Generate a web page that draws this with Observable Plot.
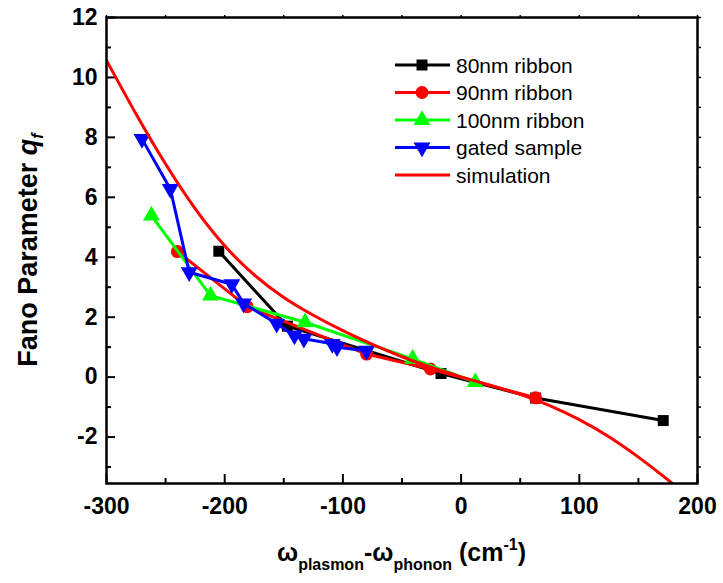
<!DOCTYPE html>
<html><head><meta charset="utf-8">
<script src="https://cdn.jsdelivr.net/npm/d3@7"></script>
<script src="https://cdn.jsdelivr.net/npm/@observablehq/plot@0.6"></script>
<style>
body{margin:0;background:#fff}
svg{font-family:"Liberation Sans",Arial,sans-serif}
</style>
</head><body><div id="chart"></div>
<script>
// ---- data ----
const x80 = [-205, -147, -17, 63, 171];
const y80 = [4.2, 1.7, 0.12, -0.7, -1.45];
const x90 = [-240, -181, -80, -26, 63];
const y90 = [4.19, 2.35, 0.77, 0.27, -0.69];
const x100 = [-262, -212, -132, -41, 12];
const y100 = [5.39, 2.72, 1.83, 0.61, -0.17];
const xGated = [-270, -246, -230, -194, -184, -156, -141, -133, -109, -105, -80];
const yGated = [7.95, 6.28, 3.5, 3.1, 2.46, 1.78, 1.39, 1.28, 1.11, 1.0, 0.88];
const xSim = [-300, -275, -250, -225, -200, -175, -150, -125, -100, -75, -50, -25, 0, 25, 50, 75, 100, 125, 150, 175, 200];
const ySim = [10.57, 8.78, 7.11, 5.62, 4.38, 3.41, 2.66, 2.066, 1.55, 1.09, 0.68, 0.32, 0.01, -0.28, -0.575, -0.95, -1.42, -1.99, -2.67, -3.43, -4.25];

const xTicks = [-300, -200, -100, 0, 100, 200];
const xMinorTicks = [-250, -150, -50, 50, 150];
const yTicks = [-2, 0, 2, 4, 6, 8, 10, 12];
const yMinorTicks = [-3, -1, 1, 3, 5, 7, 9, 11];
const xDomain = [-300, 200];
const yDomain = [-3.55, 12];

const seriesNames = ["80nm ribbon", "90nm ribbon", "100nm ribbon", "gated sample", "simulation"];
const seriesColors = ["#000000", "#ff0000", "#00ff00", "#0000ff", "#ff0000"];

const rows = (xs, ys) => xs.map((x, i) => ({x, y: ys[i]}));

const triDown = {
  draw(ctx, size) {
    const y = -Math.sqrt(size / (Math.sqrt(3) * 3));
    ctx.moveTo(0, -y * 2);
    ctx.lineTo(-Math.sqrt(3) * y, y);
    ctx.lineTo(Math.sqrt(3) * y, y);
    ctx.closePath();
  }
};
const triUp = {
  draw(ctx, size) {
    const y = -Math.sqrt(size / (Math.sqrt(3) * 3));
    ctx.moveTo(0, y * 2);
    ctx.lineTo(-Math.sqrt(3) * y, -y);
    ctx.lineTo(Math.sqrt(3) * y, -y);
    ctx.closePath();
  }
};
const symbols = ["square", "circle", triUp, triDown, null];
const radii = [6.2, 6.5, 6.3, 6.3, 0];

const allX = d3.range(-300, 201, 50);
const allY = d3.range(-3, 13, 1);

const series = [rows(x80, y80), rows(x90, y90), rows(x100, y100), rows(xGated, yGated)];

const marks = [];
series.forEach((d, i) => {
  marks.push(Plot.line(d, {x: "x", y: "y", stroke: seriesColors[i], strokeWidth: 3}));
  marks.push(Plot.dot(d, {x: "x", y: "y", symbol: symbols[i], r: radii[i], fill: seriesColors[i], stroke: "none"}));
});
marks.push(Plot.line(rows(xSim, ySim), {x: "x", y: "y", stroke: seriesColors[4], strokeWidth: 3, curve: "natural", clip: true}));

const chart = Plot.plot({
  width: 723, height: 583,
  marginLeft: 106, marginRight: 26, marginTop: 17, marginBottom: 100,
  x: {domain: xDomain},
  y: {domain: yDomain},
  style: {fontFamily: "Liberation Sans, Arial, sans-serif", background: "white", color: "black"},
  marks: [
    Plot.axisX({ticks: xTicks, tickSize: -9, tickPadding: 23, tickFormat: d => String(d), fontSize: 23, fontWeight: "bold", label: null, strokeWidth: 2}),
    Plot.axisX({ticks: xMinorTicks, tickSize: -5, tickFormat: () => "", label: null, strokeWidth: 2}),
    Plot.axisX({anchor: "top", ticks: allX, tickSize: 3, tickFormat: () => "", label: null, strokeWidth: 1.5}),
    Plot.axisY({ticks: yTicks, tickSize: -9, tickPadding: 18, tickFormat: d => String(d), fontSize: 23, fontWeight: "bold", label: null, strokeWidth: 2}),
    Plot.axisY({ticks: yMinorTicks, tickSize: -5, tickFormat: () => "", label: null, strokeWidth: 2}),
    Plot.axisY({anchor: "right", ticks: allY, tickSize: 3, tickFormat: () => "", label: null, strokeWidth: 1.5}),
    ...marks,
    Plot.frame({stroke: "black", strokeWidth: 2.5})
  ]
});
document.getElementById("chart").appendChild(chart);

const svg = d3.select(chart);

// y axis label
const yl = svg.append("text")
  .attr("transform", "translate(37,250) rotate(-90)")
  .attr("text-anchor", "middle")
  .attr("font-size", 27).attr("font-weight", "bold").attr("fill", "black");
yl.append("tspan").text("Fano Parameter ");
yl.append("tspan").attr("font-style", "italic").text("q");
yl.append("tspan").attr("font-style", "italic").attr("font-size", 16).attr("dy", "0.35em").text("f");

// x axis label
const xl = svg.append("text")
  .attr("x", 401.5).attr("y", 561)
  .attr("text-anchor", "middle")
  .attr("font-size", 25).attr("font-weight", "bold").attr("fill", "black");
xl.append("tspan").text("ω");
xl.append("tspan").attr("font-size", 16).attr("dy", 9).text("plasmon");
xl.append("tspan").attr("dy", -9).text("-ω");
xl.append("tspan").attr("font-size", 16).attr("dy", 9).text("phonon");
xl.append("tspan").attr("dy", -9).text(" (cm");
xl.append("tspan").attr("font-size", 16).attr("dy", -11).text("-1");
xl.append("tspan").attr("dy", 11).text(")");

// legend
const lg = svg.append("g").attr("text-anchor", "start");
seriesNames.forEach((name, i) => {
  const cy = 65 + i * 27.5;
  lg.append("line").attr("x1", 395).attr("x2", 450).attr("y1", cy).attr("y2", cy)
    .attr("stroke", seriesColors[i]).attr("stroke-width", 3);
  if (symbols[i]) {
    const t = typeof symbols[i] === "string" ? (symbols[i] === "square" ? d3.symbolSquare : d3.symbolCircle) : symbols[i];
    lg.append("path").attr("transform", `translate(422,${cy})`)
      .attr("d", d3.symbol(t, Math.PI * radii[i] * radii[i])())
      .attr("fill", seriesColors[i]);
  }
  lg.append("text").attr("x", 456).attr("y", cy).attr("dy", "0.36em")
    .attr("text-anchor", "start")
    .attr("font-size", 21).attr("fill", "black").text(name);
});
</script>
</body></html>
